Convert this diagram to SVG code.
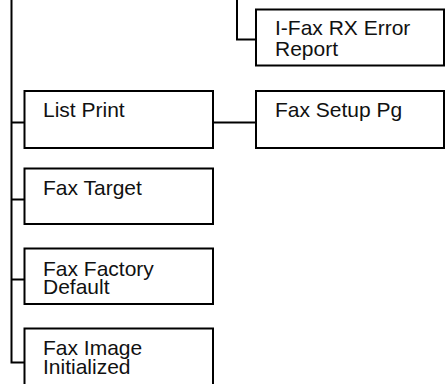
<svg xmlns="http://www.w3.org/2000/svg" width="445" height="384" viewBox="0 0 445 384">
<style>
.box{fill:#fff;stroke:#000;stroke-width:2}
.ln{fill:none;stroke:#000;stroke-width:2}
text{font-family:"Liberation Sans",Arial,sans-serif;font-size:21px;fill:#111}
</style>
<rect width="445" height="384" fill="#fff"/>
<g id="connectors">
<path class="ln" d="M11.5 0V362.5H24.5"/>
<path class="ln" d="M11.5 122.5H24.5"/>
<path class="ln" d="M11.5 199.5H24.5"/>
<path class="ln" d="M11.5 279.5H24.5"/>
<path class="ln" d="M213 122.5H256"/>
<path class="ln" d="M237 0V39.5H256"/>
</g>
<g id="ifax-rx-error-report">
<rect class="box" x="256" y="9.5" width="188" height="56"/>
<text x="275" y="35">I-Fax RX Error</text>
<text x="275" y="55.5">Report</text>
</g>
<g id="list-print">
<rect class="box" x="24.5" y="91" width="188.5" height="57"/>
<text x="43" y="116.5">List Print</text>
</g>
<g id="fax-setup-pg">
<rect class="box" x="256" y="91" width="188" height="57"/>
<text x="275" y="116.5">Fax Setup Pg</text>
</g>
<g id="fax-target">
<rect class="box" x="24.5" y="168.5" width="188.5" height="55.5"/>
<text x="43" y="195">Fax Target</text>
</g>
<g id="fax-factory-default">
<rect class="box" x="24.5" y="248.5" width="188.5" height="55.5"/>
<text x="43" y="275.5">Fax Factory</text>
<text x="43" y="294">Default</text>
</g>
<g id="fax-image-initialized">
<rect class="box" x="24.5" y="328.5" width="188.5" height="70"/>
<text x="43" y="355">Fax Image</text>
<text x="43" y="374">Initialized</text>
</g>
</svg>
